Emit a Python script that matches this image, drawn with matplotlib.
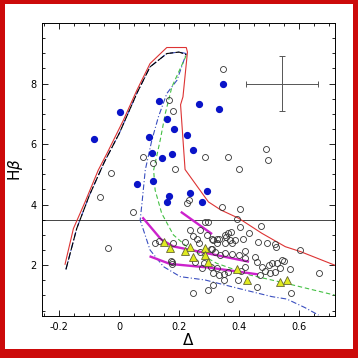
import matplotlib
matplotlib.use("Agg")
import matplotlib.pyplot as plt
from matplotlib.patches import Rectangle
from matplotlib.ticker import MultipleLocator

# --- model curves (Delta, Hbeta) ---
red_d = [-0.181, -0.153, -0.114, -0.07, -0.041, 0.014, 0.059, 0.103, 0.159, 0.224, 0.228,
         0.213, 0.205, 0.22, 0.298, 0.34, 0.399, 0.477, 0.555, 0.605, 0.72]
red_h = [2.03, 3.21, 4.09, 5.14, 5.69, 6.79, 7.78, 8.66, 9.19, 9.19, 9.04,
         7.56, 7.3, 5.16, 4.09, 3.82, 3.55, 3.05, 2.61, 2.45, 2.0]

black_d = [-0.178, -0.142, -0.10, -0.05, 0.0, 0.06, 0.103, 0.159, 0.20, 0.225]
black_h = [1.86, 3.21, 4.3, 5.4, 6.35, 7.7, 8.55, 8.99, 9.04, 8.95]

blue_d = [-0.178, -0.142, -0.10, -0.05, 0.0, 0.06, 0.103, 0.159, 0.20, 0.224,
          0.193, 0.159, 0.131, 0.109, 0.087, 0.076, 0.07, 0.103, 0.148, 0.204,
          0.287, 0.399, 0.51, 0.56, 0.62, 0.666]
blue_h = [1.86, 3.21, 4.3, 5.4, 6.35, 7.7, 8.55, 8.99, 9.04, 8.99,
          8.11, 7.67, 6.9, 6.13, 5.14, 4.04, 3.49, 2.5, 1.95, 1.62,
          1.51, 1.23, 0.96, 0.88, 0.6, 0.35]

green_d = [0.224, 0.176, 0.154, 0.137, 0.115, 0.12, 0.142, 0.181, 0.226, 0.326, 0.438, 0.549, 0.72]
green_h = [8.93, 7.89, 7.01, 6.13, 5.14, 4.48, 3.71, 3.0, 2.61, 2.06, 1.67, 1.42, 1.01]

# --- magenta segments ---
mag1_d = [0.209, 0.307]
mag1_h = [3.74, 3.05]
mag2_d = [0.08, 0.14, 0.18, 0.30, 0.43]
mag2_h = [3.55, 2.85, 2.62, 2.38, 2.12]
mag3_d = [0.105, 0.17, 0.30, 0.46]
mag3_h = [2.28, 2.04, 1.92, 1.70]

# --- stars ---
filled_d = [-0.084, 0.003, 0.134, 0.159, 0.184, 0.098, 0.109, 0.142, 0.176, 0.114, 0.06,
            0.165, 0.159, 0.228, 0.248, 0.266, 0.334, 0.348, 0.237, 0.293, 0.278]
filled_h = [6.18, 7.06, 7.42, 6.84, 6.51, 6.22, 5.71, 5.54, 5.67, 4.79, 4.68,
            4.29, 4.1, 6.29, 5.8, 7.31, 7.17, 8.0, 4.4, 4.45, 4.07]

open_d = [0.346, 0.165, 0.179, 0.081, 0.112, 0.187, 0.287, 0.362, 0.399, 0.491, 0.497,
          -0.027, -0.064, 0.045, -0.039, 0.226, 0.232, 0.343, 0.402, 0.393, 0.404,
          0.475, 0.432, 0.285, 0.296, 0.12, 0.134, 0.181, 0.237, 0.27, 0.248, 0.22,
          0.259, 0.265, 0.293, 0.31, 0.326, 0.173, 0.176, 0.176, 0.254, 0.276, 0.282,
          0.248, 0.365, 0.374, 0.356, 0.332, 0.371, 0.388, 0.354, 0.377, 0.315, 0.326,
          0.307, 0.31, 0.321, 0.27, 0.412, 0.464, 0.494, 0.521, 0.524, 0.421, 0.354,
          0.377, 0.399, 0.337, 0.455, 0.419, 0.46, 0.477, 0.499, 0.51, 0.527, 0.544,
          0.538, 0.521, 0.505, 0.488, 0.471, 0.421, 0.408, 0.365, 0.349, 0.332, 0.315,
          0.307, 0.326, 0.397, 0.349, 0.312, 0.298, 0.46, 0.371, 0.603, 0.666, 0.572,
          0.549, 0.574, 0.354]
open_h = [8.47, 7.45, 7.10, 5.58, 5.38, 5.19, 5.58, 5.58, 5.19, 5.83, 5.49,
          5.05, 4.26, 3.76, 2.58, 4.04, 4.15, 3.93, 3.84, 3.51, 3.27,
          3.29, 3.05, 3.43, 3.41, 2.74, 2.81, 2.74, 3.16, 3.16, 2.96, 2.75,
          2.88, 2.72, 3.0, 2.88, 2.88, 2.15, 2.03, 2.09, 2.09, 1.9, 2.06,
          1.07, 3.05, 3.1, 2.94, 2.85, 2.83, 2.83, 2.72, 2.72, 2.83, 2.72,
          2.55, 2.55, 2.44, 2.44, 2.85, 2.77, 2.74, 2.70, 2.59, 2.48, 2.39,
          2.37, 2.33, 2.33, 2.26, 2.22, 2.11, 1.94, 2.0, 2.06, 2.08, 2.17,
          1.89, 1.78, 1.73, 1.82, 1.67, 1.94, 1.82, 1.78, 1.71, 1.67, 1.75,
          1.94, 1.9, 1.51, 1.51, 1.34, 1.18, 1.27, 0.87, 2.5, 1.75, 1.86,
          2.14, 1.09, 3.0]

tri_d = [0.151, 0.17, 0.237, 0.22, 0.287, 0.245, 0.287, 0.295, 0.393, 0.427, 0.538, 0.56]
tri_h = [2.75, 2.57, 2.6, 2.47, 2.57, 2.28, 2.33, 2.11, 1.86, 1.51, 1.45, 1.51]

fig = plt.figure(figsize=(3.58, 3.58), dpi=100)
fig.patch.set_facecolor("#cc0a0a")
fig.patches.append(Rectangle((5 / 358, 9 / 358), 348 / 358, 345 / 358,
                             transform=fig.transFigure, facecolor="white",
                             edgecolor="none", zorder=-10))

ax = fig.add_axes([42 / 358, 42 / 358, 293 / 358, 293 / 358])
ax.set_zorder(5)

ax.plot(blue_d, blue_h, color="#3a4fc0", lw=0.8, ls=(0, (5, 2, 1, 2)), zorder=2)
ax.plot(black_d, black_h, color="black", lw=0.8, ls=(0, (7, 2)), zorder=2)
ax.plot(green_d, green_h, color="#44c044", lw=0.8, ls=(0, (4, 2.5)), zorder=2)
ax.plot(red_d, red_h, color="#dd3333", lw=0.8, zorder=2)

for d, h in [(mag1_d, mag1_h), (mag2_d, mag2_h), (mag3_d, mag3_h)]:
    ax.plot(d, h, color="#cc22cc", lw=1.7, zorder=3)

ax.axhline(3.5, color="#444444", lw=0.7, zorder=1)

ax.plot(open_d, open_h, "o", mfc="none", mec="#333333", mew=0.6, ms=4.3, zorder=4)
ax.plot(filled_d, filled_h, "o", color="#0a14c8", ms=4.2, zorder=5)
ax.plot(tri_d, tri_h, "^", mfc="#e0ea20", mec="#666633", mew=0.6, ms=5.5, zorder=5)

ax.errorbar([0.545], [8.0], xerr=[0.12], yerr=[0.9], fmt="none",
            ecolor="#555555", elinewidth=0.7, capsize=2, capthick=0.7)

ax.set_xlim(-0.258, 0.721)
ax.set_ylim(0.32, 10.0)
ax.xaxis.set_major_locator(MultipleLocator(0.2))
ax.xaxis.set_minor_locator(MultipleLocator(0.05))
ax.yaxis.set_major_locator(MultipleLocator(2))
ax.yaxis.set_minor_locator(MultipleLocator(0.5))
ax.set_xticks([-0.2, 0, 0.2, 0.4, 0.6])
ax.set_xticklabels(["-0.2", "0", "0.2", "0.4", "0.6"])
ax.set_yticks([2, 4, 6, 8])
ax.tick_params(which="both", direction="in", top=True, right=True,
               labelsize=7, width=0.6, pad=4)
ax.tick_params(which="major", length=4)
ax.tick_params(which="minor", length=2)
for s in ax.spines.values():
    s.set_linewidth(0.7)

ax.set_xlabel(r"$\Delta$", fontsize=11, labelpad=0)
ax.set_ylabel(r"H$\beta$", fontsize=11, labelpad=4)

fig.savefig("out.png", dpi=100, facecolor=fig.get_facecolor())
